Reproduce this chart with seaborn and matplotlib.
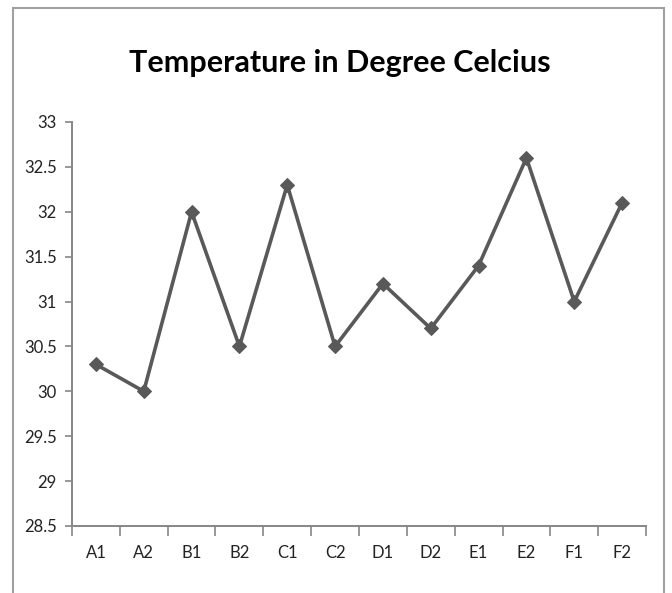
import matplotlib
matplotlib.use("Agg")
import matplotlib.pyplot as plt
from matplotlib.patches import Rectangle
from matplotlib.ticker import FixedLocator, NullFormatter
import seaborn as sns
import pandas as pd

categories = ["A1", "A2", "B1", "B2", "C1", "C2", "D1", "D2", "E1", "E2", "F1", "F2"]
temperatures = [30.3, 30.0, 32.0, 30.5, 32.3, 30.5, 31.2, 30.7, 31.4, 32.6, 31.0, 32.1]
y_ticks = [28.5, 29, 29.5, 30, 30.5, 31, 31.5, 32, 32.5, 33]
title = "Temperature in Degree Celcius"

sns.set_style("white")
plt.rcParams['font.family'] = ['Lato', 'DejaVu Sans']

df = pd.DataFrame({"cat": categories, "temp": temperatures})

fig = plt.figure(figsize=(6.72, 5.93), dpi=100)
ax = fig.add_axes([72/672, 1-526/593, (646-72)/672, (526-122)/593])

sns.lineplot(data=df, x="cat", y="temp", ax=ax, color="#595959", linewidth=2.6,
             marker="D", markersize=7, markeredgecolor="#595959", sort=False)

ax.set_xlim(-0.5, len(categories) - 0.5)
ax.set_ylim(28.5, 33)
ax.set_yticks(y_ticks)
ax.set_yticklabels([f"{v:g}" for v in y_ticks])

# Excel-style: ticks at category boundaries, labels at centers
ax.xaxis.set_major_locator(FixedLocator([i - 0.5 for i in range(len(categories) + 1)]))
ax.xaxis.set_major_formatter(NullFormatter())
ax.xaxis.set_minor_locator(FixedLocator(list(range(len(categories)))))
ax.set_xticklabels(categories, minor=True)
ax.tick_params(axis="x", which="major", bottom=True, length=7, width=1.2,
               color="#868686", direction="out")
ax.tick_params(axis="x", which="minor", bottom=True, length=0, pad=14,
               labelsize=12, labelcolor="#222222")
ax.tick_params(axis="y", left=True, length=5, width=1.2, color="#868686", direction="out",
               labelsize=12, labelcolor="#222222", pad=6)

ax.set_xlabel("")
ax.set_ylabel("")
for s in ["top", "right"]:
    ax.spines[s].set_visible(False)
for s in ["left", "bottom"]:
    ax.spines[s].set_color("#868686")
    ax.spines[s].set_linewidth(1.4)

fig.text(340/672, 1-63/593, title, ha="center", va="center", fontsize=22,
         fontweight="bold", color="#000000")

# chart area border
fig.patches.append(Rectangle((13/672, -0.05), (664-13)/672, 1.05 - 8/593,
                             transform=fig.transFigure, fill=False,
                             edgecolor="#a0a0a0", linewidth=1.5))

fig.savefig("out.png", dpi=100)
